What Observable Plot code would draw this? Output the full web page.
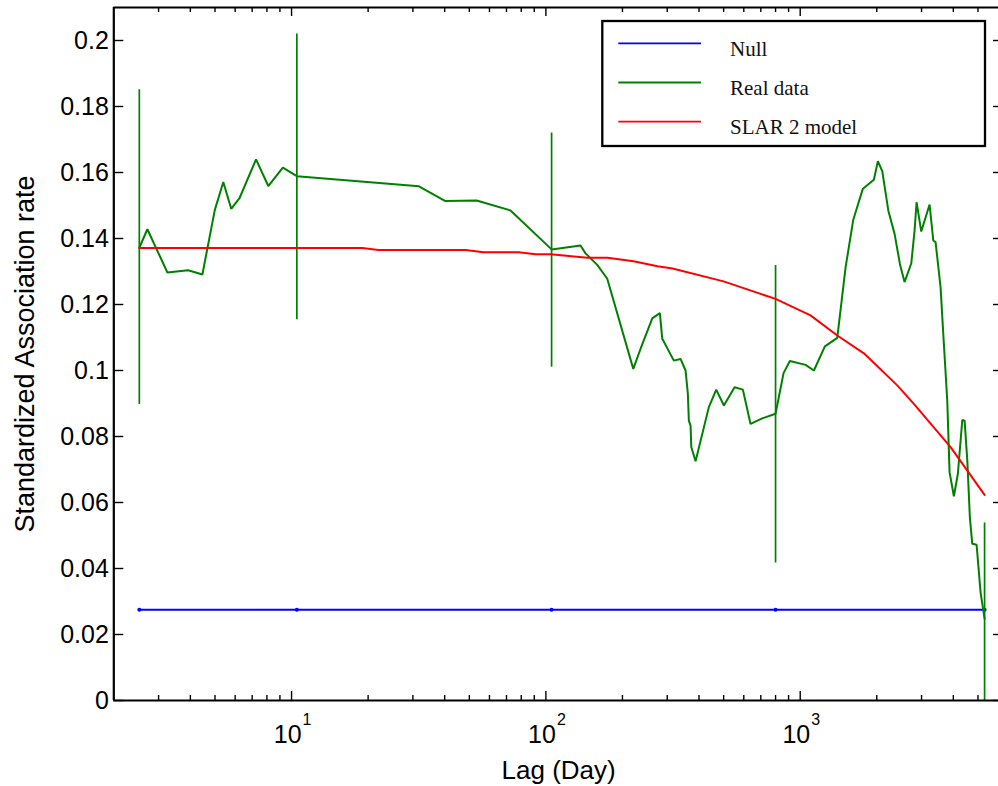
<!DOCTYPE html>
<html>
<head>
<meta charset="utf-8">
<script src="https://cdn.jsdelivr.net/npm/d3@7"></script>
<script src="https://cdn.jsdelivr.net/npm/@observablehq/plot@0.6"></script>
<style>
  html, body { margin: 0; padding: 0; background: #fff; overflow: hidden; }
  #chart { position: relative; width: 998px; height: 786px; }
  #chart svg.plot-root { display: block; }
  g[aria-label="tick-label"] text { letter-spacing: 1.5px; }
  #legend { position: absolute; left: 600px; top: 19px; }
</style>
</head>
<body>
<div id="chart"></div>
<script>
// Lag (days) and standardized association rate for the observed data
const lagReal = [2.52, 2.71, 3.25, 3.92, 4.46, 4.99, 5.39, 5.79, 6.24, 7.25, 8.10, 9.24, 10.49,
  19.8, 31.7, 40.1, 53.4, 72.6, 105.3, 136.8, 143.2, 159.2, 174.3, 220.6, 235.7, 262.0,
  280.7, 286.8, 318.6, 338.4, 354.2, 361.6, 364.9, 370.6, 373.0, 387.8, 437.3, 467.6,
  501.0, 552.0, 595.0, 637.8, 709.2, 800, 860, 910.6, 1049.6, 1131.8, 1250.4, 1398.6,
  1508.4, 1616.8, 1763.8, 1948.2, 2020, 2102, 2220, 2350, 2466, 2572, 2734, 2816, 2868,
  2992, 3226, 3336, 3406, 3564, 3652, 3786, 3866, 4020, 4168, 4338, 4430, 4540, 4646,
  4748, 4938, 5120, 5308];
const rateReal = [0.1372, 0.1428, 0.1297, 0.1304, 0.1291, 0.1486, 0.1571, 0.1490, 0.1522,
  0.1640, 0.1559, 0.1615, 0.1589, 0.1571, 0.1558, 0.1514, 0.1515, 0.1485, 0.1367, 0.1379,
  0.1355, 0.1320, 0.1278, 0.1005, 0.1066, 0.1158, 0.1174, 0.1096, 0.1030, 0.1035, 0.1000,
  0.0929, 0.0848, 0.0833, 0.0768, 0.0725, 0.0889, 0.0942, 0.0894, 0.0949, 0.0942, 0.0838,
  0.0855, 0.0869, 0.0992, 0.1029, 0.1017, 0.1000, 0.1073, 0.1099, 0.1313, 0.1457, 0.1551,
  0.1578, 0.1634, 0.1604, 0.1485, 0.1414, 0.1323, 0.1268, 0.1325, 0.1424, 0.1510, 0.1421,
  0.1503, 0.1394, 0.1389, 0.1252, 0.1111, 0.0909, 0.0692, 0.0619, 0.0687, 0.0850, 0.0848,
  0.0727, 0.0555, 0.0475, 0.0472, 0.0327, 0.0248];

// SLAR 2 model fit
const lagModel = [2.52, 18.96, 21.98, 48.3, 56.9, 78.1, 91.1, 104.3, 145.8, 174.7, 221.1,
  274.8, 314.8, 499.7, 800, 1098, 1399, 1780, 2408, 2798, 3902, 5308];
const rateModel = [0.1371, 0.1371, 0.1365, 0.1365, 0.1358, 0.1358, 0.1352, 0.1352, 0.1342,
  0.1342, 0.1331, 0.1316, 0.1309, 0.1270, 0.1217, 0.1167, 0.1106, 0.1052, 0.0955, 0.0899,
  0.0768, 0.0623];

// Error bars on the observed data and the null association rate
const lagBars = [2.52, 10.49, 105.3, 800, 5308];
const barLow = [0.0897, 0.1154, 0.1010, 0.0417, -0.0042];
const barHigh = [0.1851, 0.2020, 0.1720, 0.1318, 0.0538];
const nullRate = 0.0275;

// Axes
const xDomain = [2, 6300];
const yDomain = [0, 0.21];
const xMajor = [10, 100, 1000];
const xBase = ["10", "10", "10"];
const xExponents = ["1", "2", "3"];
const xMinor = [3, 4, 5, 6, 7, 8, 9, 20, 30, 40, 50, 60, 70, 80, 90,
  200, 300, 400, 500, 600, 700, 800, 900, 2000, 3000, 4000, 5000];
const yTicks = [0, 0.02, 0.04, 0.06, 0.08, 0.1, 0.12, 0.14, 0.16, 0.18, 0.2];
const yTickLabels = ["0", "0.02", "0.04", "0.06", "0.08", "0.1", "0.12", "0.14", "0.16", "0.18", "0.2"];
const xLabel = "Lag (Day)";
const yLabel = "Standardized Association rate";

const seriesNames = ["Null", "Real data", "SLAR 2 model"];
const seriesColors = ["#0000ff", "#008000", "#ff0000"];

// ---- layout ----
const W = 998, H = 786;
const M = {top: 7, right: -5, bottom: 86, left: 113.3};
const plotW = W - M.left - M.right;
const plotH = H - M.top - M.bottom;
const ink = "#000";
const sans = "'Liberation Sans', Arial, Helvetica, sans-serif";

const real = lagReal.map((lag, i) => ({lag, rate: rateReal[i]}));
const model = lagModel.map((lag, i) => ({lag, rate: rateModel[i]}));
const bars = lagBars.map((lag, i) => ({lag, low: barLow[i], high: barHigh[i]}));
const nullRows = lagBars.map(lag => ({lag, rate: nullRate}));

const tickStyle = {stroke: ink, strokeWidth: 1.4};

const chart = Plot.plot({
  width: W,
  height: H,
  marginTop: M.top,
  marginRight: M.right,
  marginBottom: M.bottom,
  marginLeft: M.left,
  className: "plot-root",
  style: {background: "#fff", fontFamily: sans, color: ink, overflow: "hidden"},
  x: {type: "log", domain: xDomain, range: [M.left, W - M.right], axis: null},
  y: {type: "linear", domain: yDomain, range: [H - M.bottom, M.top], axis: null},
  marks: [
    // null model
    Plot.line(nullRows, {x: "lag", y: "rate", stroke: seriesColors[0], strokeWidth: 1.8}),
    Plot.dot(nullRows, {x: "lag", y: "rate", r: 2, fill: seriesColors[0], stroke: null}),
    // observed data with error bars
    Plot.ruleX(bars, {x: "lag", y1: "low", y2: "high", stroke: seriesColors[1], strokeWidth: 1.7, clip: true}),
    Plot.line(real, {x: "lag", y: "rate", stroke: seriesColors[1], strokeWidth: 2, strokeLinejoin: "miter"}),
    // model
    Plot.line(model, {x: "lag", y: "rate", stroke: seriesColors[2], strokeWidth: 2}),

    // axes box
    Plot.ruleY([yDomain[0]], {stroke: ink, strokeWidth: 2.2}),
    Plot.ruleY([yDomain[1]], {stroke: ink, strokeWidth: 2.2}),
    Plot.ruleX([xDomain[0]], {stroke: ink, strokeWidth: 2.2}),

    // inward ticks on all four sides
    Plot.tickX(xMinor, {x: d => d, insetTop: plotH - 5, ...tickStyle}),
    Plot.tickX(xMinor, {x: d => d, insetBottom: plotH - 5, ...tickStyle}),
    Plot.tickX(xMajor, {x: d => d, insetTop: plotH - 9, ...tickStyle}),
    Plot.tickX(xMajor, {x: d => d, insetBottom: plotH - 9, ...tickStyle}),
    Plot.tickY(yTicks, {y: d => d, insetRight: plotW - 10, ...tickStyle}),
    Plot.tickY(yTicks, {y: d => d, insetLeft: plotW - 10, ...tickStyle}),

    // tick labels
    Plot.text(yTicks, {
      y: d => d, text: (d, i) => yTickLabels[i], frameAnchor: "left",
      textAnchor: "end", dx: -5, fontSize: 25, fill: ink, ariaLabel: "tick-label"
    }),
    Plot.text(xMajor, {
      x: d => d, text: (d, i) => xBase[i], frameAnchor: "bottom", lineAnchor: "bottom",
      textAnchor: "end", dx: 10, dy: 42.7, fontSize: 25, fill: ink, ariaLabel: "tick-label"
    }),
    Plot.text(xMajor, {
      x: d => d, text: (d, i) => xExponents[i], frameAnchor: "bottom", lineAnchor: "bottom",
      textAnchor: "start", dx: 11, dy: 24.5, fontSize: 16, fill: ink
    }),

    // axis titles
    Plot.text([xLabel], {text: d => d, frameAnchor: "bottom", lineAnchor: "bottom", textAnchor: "middle", dy: 78, fontSize: 26, fill: ink}),
    Plot.text([yLabel], {text: d => d, frameAnchor: "left", lineAnchor: "bottom", textAnchor: "middle", rotate: -90, dx: -80, fontSize: 27, fill: ink})
  ]
});

const container = document.getElementById("chart");
container.appendChild(chart);

// legend box in the upper right of the axes
const legend = d3.select(container).append("svg")
  .attr("id", "legend")
  .attr("width", 388)
  .attr("height", 130);

legend.append("rect")
  .attr("x", 2.3).attr("y", 2)
  .attr("width", 382.7).attr("height", 125)
  .attr("fill", "#fff")
  .attr("stroke", ink)
  .attr("stroke-width", 2.3);

const rows = legend.selectAll("g.row")
  .data(seriesNames.map((name, i) => ({name, color: seriesColors[i]})))
  .join("g")
  .attr("class", "row")
  .attr("transform", (d, i) => `translate(0,${24.3 + i * 39.2})`);

rows.append("line")
  .attr("x1", 18.3).attr("x2", 101)
  .attr("y1", 0).attr("y2", 0)
  .attr("stroke", d => d.color)
  .attr("stroke-width", 1.8);

rows.append("text")
  .attr("x", 130)
  .attr("y", 12.5)
  .attr("font-family", "'Liberation Serif', 'Times New Roman', Times, serif")
  .attr("font-size", 21)
  .attr("fill", "#111")
  .text(d => d.name);
</script>
</body>
</html>
